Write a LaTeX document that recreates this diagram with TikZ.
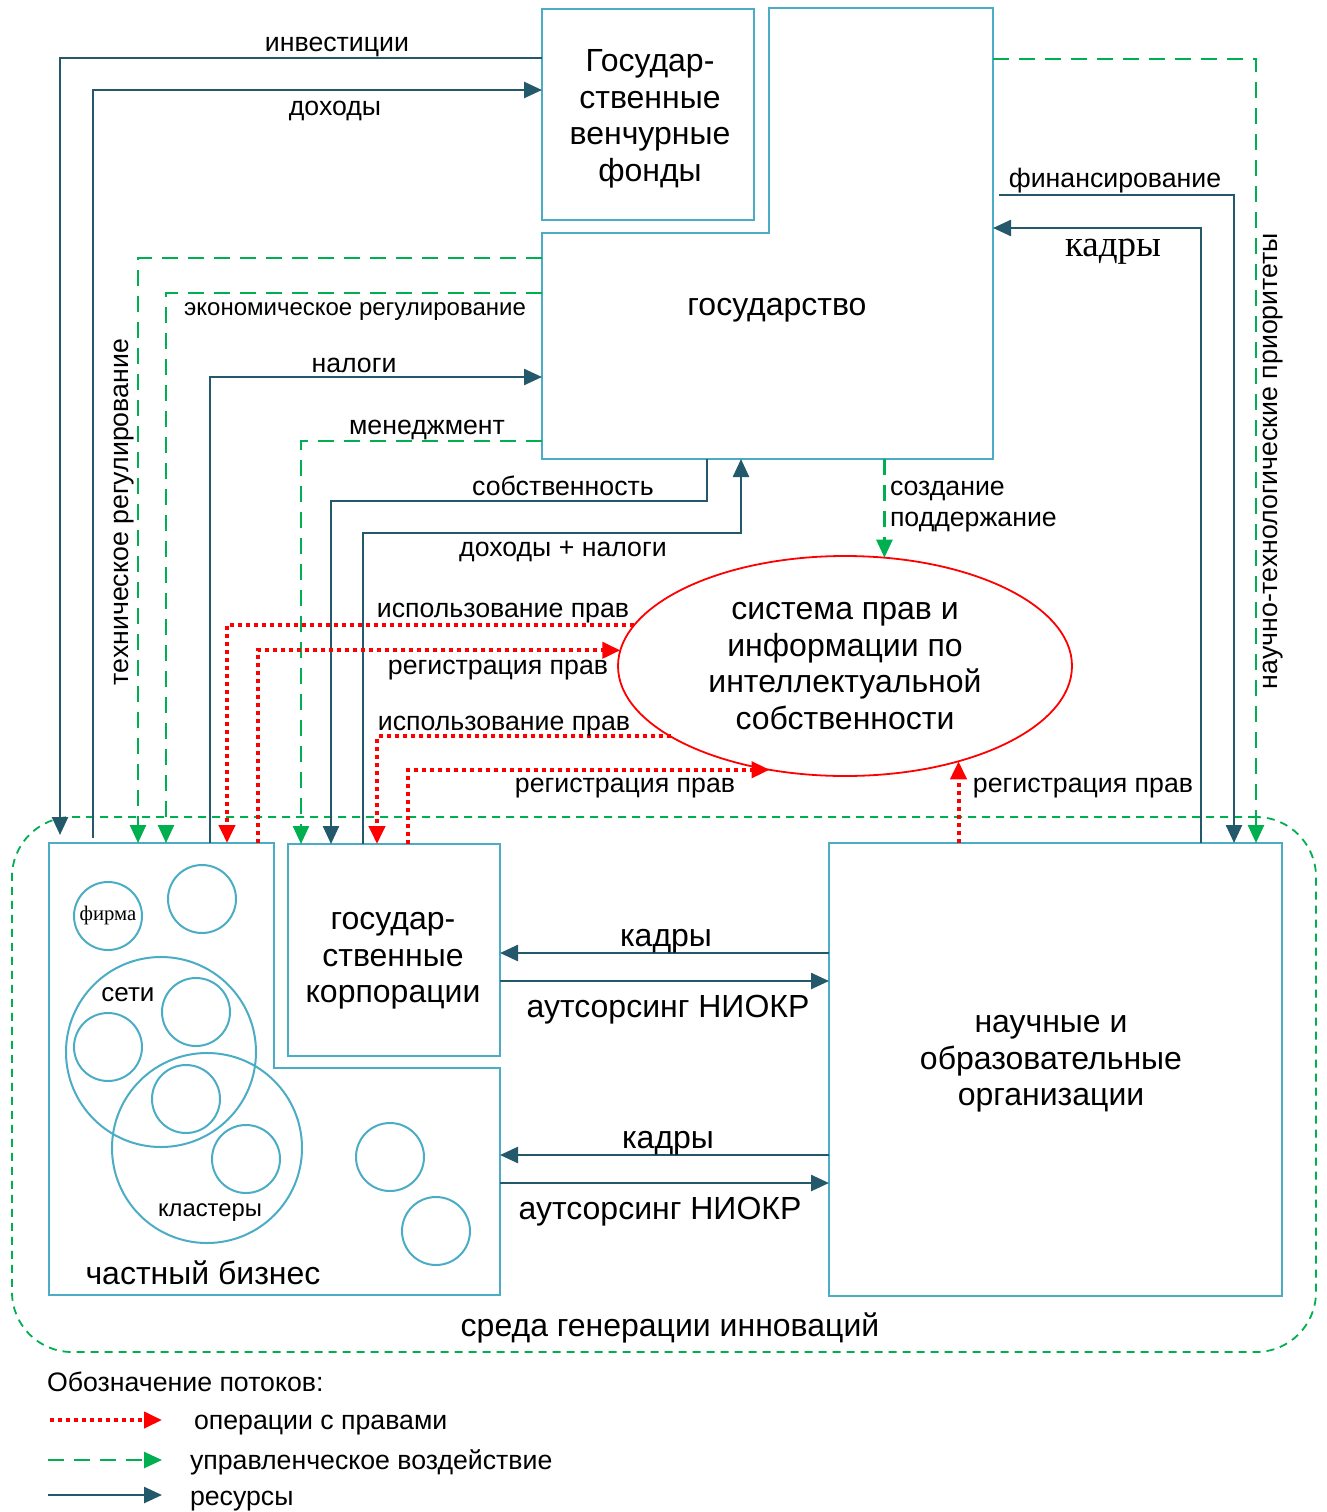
\documentclass[tikz,border=0pt]{standalone}
\usepackage{fontspec}
\setmainfont{Liberation Sans}
\newfontfamily\timesfont{Liberation Serif}
\usetikzlibrary{arrows.meta,shapes.geometric}
\definecolor{boxc}{RGB}{75,172,198}
\definecolor{resc}{RGB}{36,89,107}
\definecolor{ctrlc}{RGB}{0,176,80}
\newcommand\lblsize{\fontsize{26.7}{31}\selectfont}
\newcommand\bigsize{\fontsize{32}{36.5}\selectfont}
\begin{document}
\begin{tikzpicture}[x=1pt, y=-1pt,
        every node/.style={inner sep=0pt, outer sep=0pt},
        box/.style={draw=boxc, line width=2.5pt, align=center, font=\bigsize},
        hull/.style={draw=none},
        firm/.style={circle, draw=boxc, line width=2pt, minimum size=68pt},
        group/.style={circle, draw=boxc, line width=2pt, minimum size=190pt},
        lbl/.style={font=\lblsize, anchor=base},
        big/.style={font=\bigsize, align=center},
        res/.style={draw=resc, line width=2.5pt, -{Triangle[length=18pt,width=16pt]}},
        ctrl/.style={draw=ctrlc, line width=2.5pt, dash pattern=on 16pt off 10pt, -{Triangle[length=18pt,width=16pt]}},
        rights/.style={draw=red, line width=4pt, dash pattern=on 4pt off 4pt, -{Triangle[length=18pt,width=16pt]}}
    ]
    \useasboundingbox (0,0) rectangle (1327,1512);

    \node[hull, minimum width=451pt, minimum height=451pt] (gos) at (767.5,233.5) {};
    \draw[boxc, line width=2.5pt] (769,8) -- (993,8) -- (993,459) -- (542,459) -- (542,233) -- (769,233) -- cycle;
    \node[big] (gostxt) at (777,310) {государство};
    \node[box, minimum width=212pt, minimum height=211pt, fill=white] (vf) at (648,114.5) {};
    \node[big] (vftxt) at (650,119) {Государ-\\ственные\\венчурные\\фонды};

    \node[draw=ctrlc, line width=1.8pt, dash pattern=on 8pt off 6pt, rounded corners=60pt, minimum width=1304pt, minimum height=535pt] (env) at (664,1084.5) {};
    \node[big] (envtxt) at (670,1328) {среда генерации инноваций};

    \node[hull, minimum width=451pt, minimum height=452pt] (biz) at (274.5,1069) {};
    \draw[boxc, line width=2.5pt] (49,843) -- (274,843) -- (274,1068) -- (500,1068) -- (500,1295) -- (49,1295) -- cycle;
    \node[big] (biztxt) at (203,1273) {частный бизнес};
    \node[box, minimum width=212pt, minimum height=212pt] (corp) at (394,950) {};
    \node[big] (corptxt) at (393,961) {государ-\\ственные\\корпорации};
    \node[box, minimum width=453pt, minimum height=453pt] (sci) at (1055.5,1069.5) {};
    \node[big] (scitxt) at (1051,1064) {научные и\\образовательные\\организации};
    \node[ellipse, draw=red, line width=1.8pt, minimum width=454pt, minimum height=220pt, align=center, font=\bigsize] (ip) at (845,666) {система прав и\\информации по\\интеллектуальной\\собственности};

    \node[firm, font=\timesfont\fontsize{20.7}{20.7}\selectfont] (f1) at (108,916) {фирма};
    \node[firm] (f2) at (202,899) {};
    \node[group] (net) at (161,1052) {};
    \node[group] (clu) at (207,1148) {};
    \node[firm] (f3) at (196,1012) {};
    \node[firm] (f4) at (108,1047) {};
    \node[firm] (f5) at (186,1099) {};
    \node[firm] (f6) at (246,1159) {};
    \node[firm] (f7) at (390,1157) {};
    \node[firm] (f8) at (436,1231) {};
    \node[font=\fontsize{26}{26}\selectfont] (nettxt) at (128,995) {сети};
    \node[font=\fontsize{23.8}{23.8}\selectfont] (clutxt) at (210,1213) {кластеры};

    \draw[res, shorten >=8pt] (vf.west |- 0,58) -| (biz.north -| 60,0);
    \draw[res, shorten <=5pt] (biz.north -| 93,0) |- (vf.west |- 0,90);
    \draw[ctrl] (gos.west |- 0,258) -| (biz.north -| 138,0);
    \draw[ctrl] (gos.west |- 0,293) -| (biz.north -| 166,0);
    \draw[res] (biz.north -| 210,0) |- (gos.west |- 0,377);
    \draw[ctrl] (gos.west |- 0,441) -| (corp.north -| 301,0);
    \draw[res] (gos.south -| 707,0) -- (707,501) -| (corp.north -| 331,0);
    \draw[res] (corp.north -| 363,0) -- (363,533) -| (gos.south -| 741,0);
    \draw[ctrl] (gos.south -| ip.70.7) -- (ip.70.7);
    \draw[rights] (ip.169) -| (biz.north -| 227,0);
    \draw[rights] (biz.north -| 258,0) |- (ip.176);
    \draw[rights] (ip.202.3) -| (corp.north -| 377,0);
    \draw[rights] (corp.north -| 408,0) |- (ip.234.6);
    \draw[rights] (sci.north -| ip.320.5) -- (ip.320.5);
    \draw[ctrl] (gos.east |- 0,59) -| (sci.north -| 1256,0);
    \draw[res, shorten <=6pt] (gos.east |- 0,195) -| (sci.north -| 1234,0);
    \draw[res] (sci.north -| 1201,0) |- (gos.east |- 0,228);
    \draw[res] (sci.west |- 0,953) -- (corp.east |- 0,953);
    \draw[res] (corp.east |- 0,981) -- (sci.west |- 0,981);
    \draw[res] (sci.west |- 0,1155) -- (biz.east |- 0,1155);
    \draw[res] (biz.east |- 0,1183) -- (sci.west |- 0,1183);

    \node[lbl] (linv) at (337,52) {инвестиции};
    \node[lbl] (ldox) at (335,115) {доходы};
    \node[lbl, font=\fontsize{24}{24}\selectfont] (lecon) at (355,315) {экономическое регулирование};
    \node[lbl] (lnal) at (354,372) {налоги};
    \node[lbl] (lmgmt) at (427,434) {менеджмент};
    \node[lbl] (lsob) at (563,495) {собственность};
    \node[lbl] (ldn) at (563,556) {доходы + налоги};
    \node[font=\lblsize, align=left, anchor=west] (lcreate) at (890,507) {создание\\поддержание};
    \node[lbl] (luse1) at (503,617) {использование прав};
    \node[lbl] (lreg1) at (498,674) {регистрация прав};
    \node[lbl] (luse2) at (504,730) {использование прав};
    \node[lbl] (lreg2) at (625,792) {регистрация прав};
    \node[lbl] (lreg3) at (1083,792) {регистрация прав};
    \node[lbl] (lfin) at (1115,187) {финансирование};
    \node[lbl, font=\timesfont\fontsize{37}{37}\selectfont] (lkad0) at (1113,256) {кадры};
    \node[font=\lblsize, rotate=90] (ltech) at (124,512) {техническое регулирование};
    \node[font=\lblsize, rotate=90] (lprio) at (1273,461) {научно-технологические приоритеты};
    \node[big] (lkad1) at (666,941) {кадры};
    \node[big] (lout1) at (668,1010) {аутсорсинг НИОКР};
    \node[big] (lkad2) at (668,1143) {кадры};
    \node[big] (lout2) at (660,1212) {аутсорсинг НИОКР};

    \node[font=\lblsize, anchor=west] (legtxt) at (47,1382) {Обозначение потоков:};
    \coordinate (leg1a) at (50,1420);
    \coordinate (leg1b) at (162,1420);
    \coordinate (leg2a) at (48,1460);
    \coordinate (leg2b) at (162,1460);
    \coordinate (leg3a) at (48,1495);
    \coordinate (leg3b) at (162,1495);
    \draw[rights] (leg1a) -- (leg1b);
    \draw[ctrl] (leg2a) -- (leg2b);
    \draw[res] (leg3a) -- (leg3b);
    \node[font=\lblsize, anchor=west] (leg1) at (194,1425) {операции с правами};
    \node[font=\lblsize, anchor=west] (leg2) at (190,1462) {управленческое воздействие};
    \node[font=\lblsize, anchor=west] (leg3) at (190,1501) {ресурсы};

\end{tikzpicture}
\end{document}
